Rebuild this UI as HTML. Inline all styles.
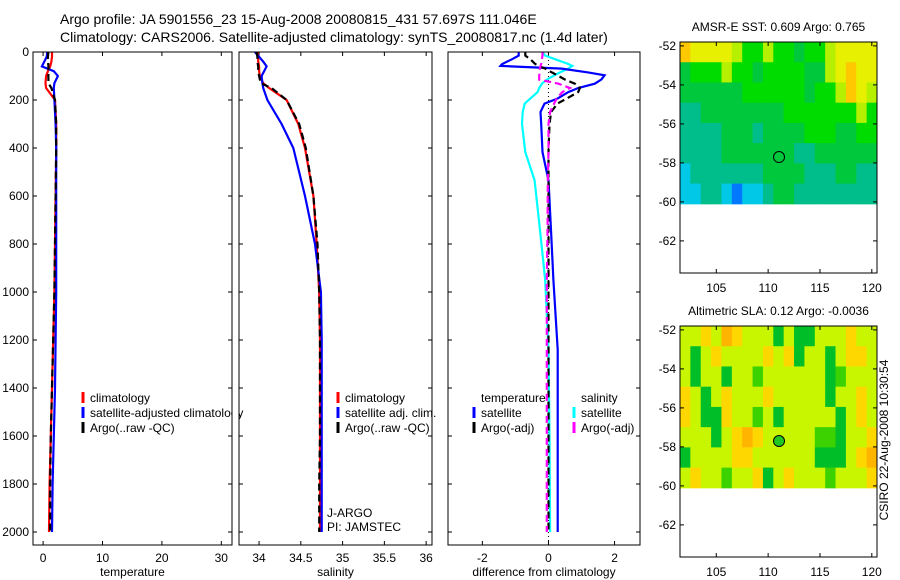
<!DOCTYPE html>
<html><head><meta charset="utf-8"><style>
body{margin:0;background:#fff;}
svg{display:block;font-family:"Liberation Sans",sans-serif;}
</style></head><body>
<svg id="s" width="900" height="580" xmlns="http://www.w3.org/2000/svg">
<text x="60" y="24" font-size="14">Argo profile: JA 5901556_23 15-Aug-2008 20080815_431 57.697S 111.046E</text>
<text x="60" y="42" font-size="14">Climatology: CARS2006. Satellite-adjusted climatology: synTS_20080817.nc (1.4d later)</text>
</svg>
<script>
// ---- data ----
const tDepth=[0,20,40,60,80,100,130,150,200,300,400,600,800,1000,1200,1400,1600,1800,2000];
const tClim=[1.5,1.5,1.4,1.2,0.8,0.5,0.4,0.5,2.0,2.2,2.2,2.1,2.0,1.9,1.7,1.5,1.3,1.1,1.0];
const tSat=[0.7,0.6,0.2,-0.2,1.8,2.5,1.9,1.8,1.9,2.1,2.2,2.2,2.2,2.2,2.1,2.0,1.8,1.6,1.5];
const tArgo=[0.9,0.8,0.85,0.9,0.9,0.9,0.9,1.4,2.0,2.2,2.2,2.1,2.0,1.9,1.7,1.5,1.3,1.2,1.2];
const sDepth=[0,20,40,60,80,100,130,150,200,300,400,600,800,1000,1200,1400,1600,1800,2000];
const sClim=[33.98,33.99,33.99,34.0,34.0,34.01,34.05,34.12,34.33,34.47,34.55,34.65,34.69,34.72,34.73,34.73,34.73,34.73,34.73];
const sSat=[33.95,34.0,34.05,34.09,34.06,34.03,34.04,34.05,34.1,34.27,34.41,34.55,34.67,34.74,34.75,34.75,34.75,34.75,34.75];
const sArgo=[33.97,33.98,33.98,33.99,33.99,34.0,34.02,34.15,34.33,34.48,34.56,34.65,34.7,34.72,34.73,34.73,34.73,34.72,34.72];
const dDepth=[0,15,30,50,58,69,85,97,115,132,150,167,194,215,250,300,417,535,750,950,1240,1600,2000];
const dTSat=[-0.9,-0.9,-1.1,-1.4,-1.45,0.4,1.2,1.7,1.6,1.4,0.9,0.6,0.27,-0.12,-0.24,-0.22,-0.18,0.0,0.08,0.15,0.28,0.28,0.28];
const dSSat=[-0.18,-0.1,0.2,0.6,0.72,0.6,0.35,0.18,-0.05,-0.2,-0.28,-0.33,-0.55,-0.72,-0.78,-0.8,-0.7,-0.42,-0.25,-0.1,0.0,0.03,0.05];
const dTArgo=[-0.7,-0.7,-0.55,-0.4,-0.3,-0.1,0.1,0.27,0.5,0.8,0.95,0.9,0.55,0.27,0.08,0.03,0.0,0.0,0.0,0.0,0.0,0.0,0.0];
const dSArgo=[-0.18,-0.18,-0.2,-0.22,-0.24,-0.26,-0.27,-0.28,-0.28,0.3,0.65,0.42,0.25,0.17,0.05,0.0,0.0,-0.02,-0.03,-0.05,-0.05,-0.05,-0.05];
const depthTicks=[0,200,400,600,800,1000,1200,1400,1600,1800,2000];
const tTicks=[0,10,20,30];
const sTicks=[34,34.5,35,35.5,36];
const dTicks=[-2,0,2];
const lonTicks=[105,110,115,120];
const latTicks=[-52,-54,-56,-58,-60,-62];
const sstGrid=[
[7,6,6,6,6,5,4,4,5,4,4,3,4,4,5,6,6,6,6],
[3,4,4,4,5,4,4,3,4,4,4,4,3,3,5,6,7,6,6],
[3,3,3,3,3,3,4,4,4,4,4,4,3,4,4,5,7,6,5],
[2,2,3,3,3,3,3,3,3,3,4,4,4,4,4,4,4,5,4],
[2,2,2,2,3,3,3,2,3,3,3,3,4,4,4,3,3,4,4],
[2,2,2,2,3,3,3,3,3,3,3,2,2,3,3,3,3,3,3],
[1,2,2,2,2,2,2,2,3,3,3,3,2,2,2,3,3,2,2],
[1,1,2,2,1,0,1,1,2,3,3,2,2,2,2,2,2,2,2]];
const slaGrid=[
[5,5,6,5,7,6,5,5,5,3,5,3,3,5,5,5,6,5,5],
[5,3,5,6,5,5,5,5,6,5,6,3,5,5,3,5,6,6,5],
[5,3,5,5,3,5,5,4,5,5,5,5,5,5,3,4,5,5,5],
[6,5,3,5,6,5,5,5,6,5,5,5,5,5,3,5,5,6,5],
[6,5,3,3,6,5,5,4,5,3,5,5,5,5,5,3,5,6,5],
[5,5,5,3,5,6,7,6,5,5,5,5,5,4,4,3,5,5,6],
[3,5,5,5,5,6,6,5,5,5,5,5,5,3,3,3,5,6,7],
[5,6,5,5,4,5,5,6,3,5,6,5,5,5,4,5,5,5,6]];
const argoLon=111.05, argoLat=-57.7;

const svg=document.getElementById('s');const NS='http://www.w3.org/2000/svg';
function mk(tag,attrs,parent){const e=document.createElementNS(NS,tag);for(const k in attrs)e.setAttribute(k,attrs[k]);(parent||svg).appendChild(e);return e;}
const yTop=52,yBot=545;
function yD(d){return 52+d*0.24;}
function panel(name,x0,x1,xmin,xmax,ticks,label,leftLabels){
  const g=mk('g',{});
  
  
  const xs=v=>x0+(v-xmin)/(xmax-xmin)*(x1-x0);
  ticks.forEach(t=>{const x=xs(t);
    mk('line',{x1:x,x2:x,y1:yTop,y2:yTop+4,stroke:'#000'},g);
    mk('line',{x1:x,x2:x,y1:yBot,y2:yBot-4,stroke:'#000'},g);
    const tx=mk('text',{x:x,y:562,'font-size':12,'text-anchor':'middle'},g);tx.textContent=t;
    
    });
  depthTicks.forEach(d=>{const y=yD(d);
    mk('line',{x1:x0,x2:x0+4,y1:y,y2:y,stroke:'#000'},g);
    mk('line',{x1:x1,x2:x1-4,y1:y,y2:y,stroke:'#000'},g);
    if(leftLabels){const tx=mk('text',{x:x0-4,y:y+4,'font-size':12,'text-anchor':'end'},g);tx.textContent=d;
      
      }});
  const xl=mk('text',{x:(x0+x1)/2,y:576,'font-size':12,'text-anchor':'middle'},g);xl.textContent=label;
  
  
  return {g,xs};
}
function line(p,depths,vals,color,dash,name){
  const pts=depths.map((d,i)=>p.xs(vals[i]).toFixed(1)+','+yD(d).toFixed(1)).join(' ');
  const l=mk('polyline',{points:pts,fill:'none',stroke:color,'stroke-width':2.2,'stroke-dasharray':dash||'none'},p.g);
  
  
}
function frame(p,x0,x1){mk('rect',{x:x0,y:yTop,width:x1-x0,height:yBot-yTop,fill:'none',stroke:'#000'},p.g);}
function legend(g,x,y,color,text){
  const l=mk('line',{x1:x,x2:x,y1:y-10,y2:y+1,stroke:color,'stroke-width':3},g);
  
  
  const t=mk('text',{x:x+7,y:y,'font-size':12},g);t.textContent=text;
  
  
}
// panel 1
const p1=panel('temperature-panel',33,232,-1.7,31.8,tTicks,'temperature',true);
line(p1,tDepth,tClim,'#f00',null,'temp-climatology-line');
line(p1,tDepth,tSat,'#00f',null,'temp-satellite-line');
line(p1,tDepth,tArgo,'#000','7,4','temp-argo-line');
frame(p1,33,232);
legend(p1.g,83,402,'#f00','climatology');legend(p1.g,83,417,'#00f','satellite-adjusted climatology');legend(p1.g,83,432,'#000','Argo(..raw -QC)');
mk('rect',{x:232.5,y:395,width:6,height:30,fill:'#fff'});
// panel 2
const p2=panel('salinity-panel',239,432,33.76,36.07,sTicks,'salinity',false);
line(p2,sDepth,sClim,'#f00',null,'sal-climatology-line');
line(p2,sDepth,sSat,'#00f',null,'sal-satellite-line');
line(p2,sDepth,sArgo,'#000','7,4','sal-argo-line');
frame(p2,239,432);
legend(p2.g,338,402,'#f00','climatology');legend(p2.g,338,417,'#00f','satellite adj. clim.');legend(p2.g,338,432,'#000','Argo(..raw -QC)');
[['J-ARGO',517],['PI: JAMSTEC',531]].forEach(a=>{const t=mk('text',{x:327,y:a[1],'font-size':12},p2.g);t.textContent=a[0];
  
  });
// panel 3
const p3=panel('difference-panel',448,640,-3.04,2.77,dTicks,'difference from climatology',false);
mk('line',{x1:p3.xs(0),x2:p3.xs(0),y1:yTop,y2:yBot,stroke:'#000','stroke-dasharray':'1,3'},p3.g);
line(p3,dDepth,dSSat,'#0ff',null,'sal-diff-satellite-line');
line(p3,dDepth,dTSat,'#00f',null,'temp-diff-satellite-line');
line(p3,dDepth,dTArgo,'#000','7,4','temp-diff-argo-line');
line(p3,dDepth,dSArgo,'#f0f','7,4','sal-diff-argo-line');
frame(p3,448,640);
{const t=mk('text',{x:481,y:402,'font-size':12},p3.g);t.textContent='temperature';
 
 
 const t2=mk('text',{x:581,y:402,'font-size':12},p3.g);t2.textContent='salinity';
 
 }
legend(p3.g,474,417,'#00f','satellite');legend(p3.g,474,432,'#000','Argo(-adj)');
legend(p3.g,574,417,'#0ff','satellite');legend(p3.g,574,432,'#f0f','Argo(-adj)');
// maps
const sstCols=['#0078ff','#00c8e6','#00be8c','#00c83c','#00dc00','#b4f000','#e6f000','#ffc800','#ffa000'];
const slaCols=['#0078ff','#00c8e6','#00be8c','#00be28','#3cd200','#c8f500','#ffd700','#ffb400','#ffa000'];
function map(name,top,bot,title,grid,cols,fillMarker){
  const g=mk('g',{});
  
  
  const x0=680,x1=877;
  const lx=v=>x0+(v-101.5)/(120.5-101.5)*(x1-x0);
  const latTop=-51.8;
  const ly=v=>top+(latTop-v)*19.5;
  grid.forEach((row,j)=>row.forEach((v,i)=>{
    const y0=ly(-51.8-j*1.0375),y1=ly(-51.8-(j+1)*1.0375);
    const r=mk('rect',{x:lx(101.5+i),y:y0,width:lx(102.5+i)-lx(101.5+i)+0.5,height:y1-y0+0.5,fill:cols[v]},g);
    
    
  }));
  mk('rect',{x:x0,y:top,width:x1-x0,height:bot-top,fill:'none',stroke:'#000'},g);
  lonTicks.forEach(t=>{const x=lx(t);
    mk('line',{x1:x,x2:x,y1:top,y2:top+4,stroke:'#000'},g);mk('line',{x1:x,x2:x,y1:bot,y2:bot-4,stroke:'#000'},g);
    const tx=mk('text',{x:x,y:bot+19,'font-size':12,'text-anchor':'middle'},g);tx.textContent=t;
    
    });
  latTicks.forEach(t=>{const y=ly(t);
    mk('line',{x1:x0,x2:x0+4,y1:y,y2:y,stroke:'#000'},g);mk('line',{x1:x1,x2:x1-4,y1:y,y2:y,stroke:'#000'},g);
    const tx=mk('text',{x:x0-4,y:y+4,'font-size':12,'text-anchor':'end'},g);tx.textContent=t;
    
    });
  const c=mk('circle',{cx:lx(argoLon),cy:ly(argoLat),r:5.5,fill:fillMarker||'none',stroke:'#000'},g);
  
  
  const tt=mk('text',{x:(x0+x1)/2,y:top-11,'font-size':12,'text-anchor':'middle'},g);tt.textContent=title;
  
  
}
map('sst-map',42,273,'AMSR-E SST: 0.609 Argo: 0.765',sstGrid,sstCols,null);
map('sla-map',326,557,'Altimetric SLA: 0.12 Argo: -0.0036',slaGrid,slaCols,'#22c822');
const ct=mk('text',{x:0,y:0,'font-size':12,'text-anchor':'middle',transform:'translate(888,440) rotate(-90)'});
ct.textContent='CSIRO 22-Aug-2008 10:30:54';


</script>
</body></html>
